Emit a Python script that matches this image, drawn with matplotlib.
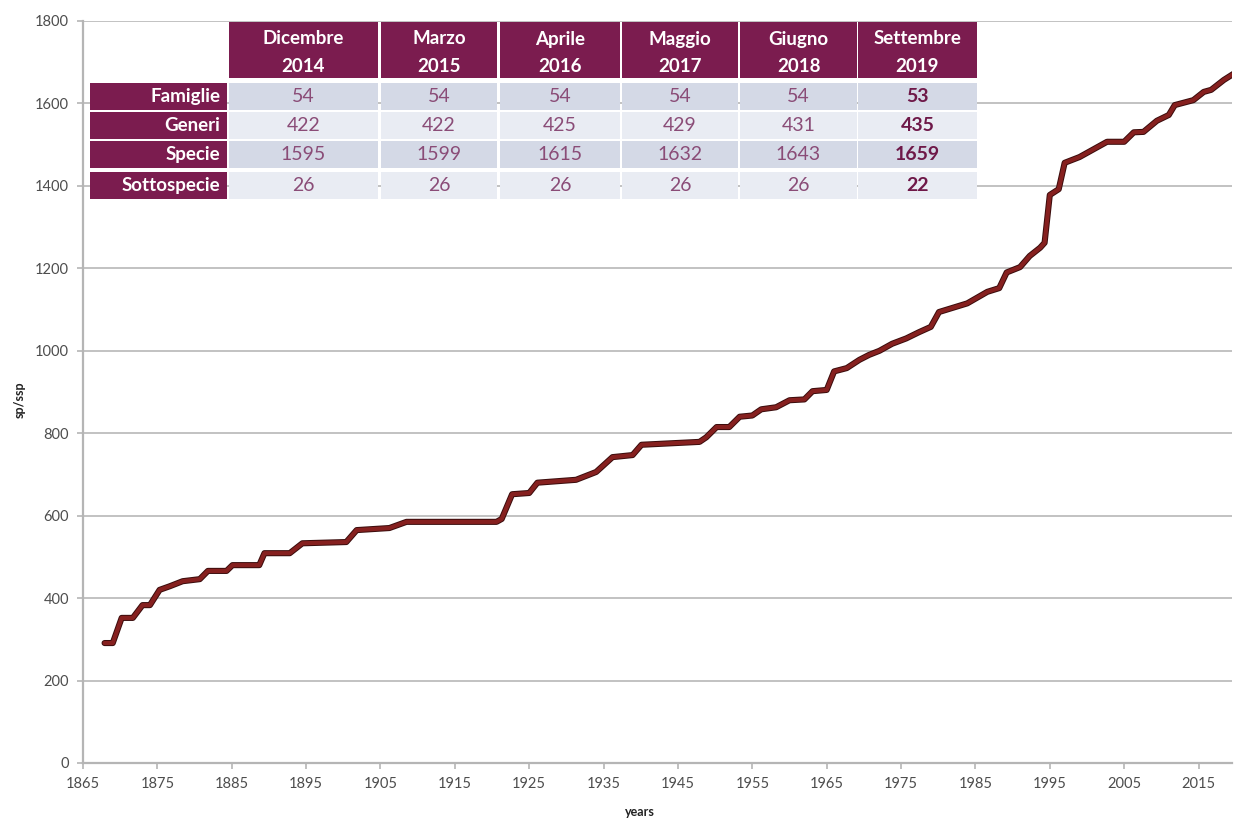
import matplotlib
matplotlib.use("Agg")
import matplotlib.pyplot as plt
from matplotlib.patches import Rectangle
import matplotlib.patheffects as pe

# ---------------- data ----------------
years = [1867.9, 1869.0, 1870.2, 1871.7, 1873.0, 1874.0, 1875.3, 1876.7, 1878.4,
         1880.7, 1881.8, 1884.3, 1885.1, 1888.7, 1889.4, 1892.8, 1894.5, 1900.4,
         1901.8, 1906.2, 1908.5, 1920.6, 1921.3, 1922.7, 1925.0, 1926.1, 1931.3,
         1934.0, 1936.2, 1938.9, 1940.1, 1947.9, 1948.8, 1950.2, 1951.9, 1953.3,
         1955.0, 1956.2, 1958.2, 1960.0, 1962.0, 1963.1, 1965.0, 1966.0, 1967.7,
         1969.4, 1970.7, 1972.1, 1973.8, 1975.7, 1977.4, 1979.0, 1980.1, 1983.9,
         1986.6, 1988.2, 1989.2, 1991.0, 1992.3, 1993.7, 1994.3, 1995.0, 1996.2,
         1997.0, 1999.0, 2000.0, 2002.7, 2005.0, 2006.3, 2007.6, 2009.4, 2011.0,
         2011.8, 2014.3, 2015.7, 2016.7, 2018.4, 2019.8]
species = [291, 291, 352, 352, 383, 383, 420, 429, 441,
           446, 466, 466, 480, 480, 509, 509, 533, 536,
           565, 570, 585, 585, 592, 652, 655, 680, 687,
           706, 742, 747, 772, 779, 790, 815, 815, 840,
           843, 858, 863, 880, 882, 902, 905, 950, 958,
           978, 990, 1000, 1017, 1030, 1045, 1058, 1094, 1115,
           1143, 1152, 1190, 1203, 1230, 1250, 1262, 1378, 1392,
           1456, 1470, 1480, 1507, 1507, 1530, 1531, 1558, 1572,
           1596, 1608, 1628, 1633, 1657, 1673]

x_ticks = list(range(1865, 2020, 10))
y_ticks = list(range(0, 1801, 200))

col_headers = ["Dicembre\n2014", "Marzo\n2015", "Aprile\n2016",
               "Maggio\n2017", "Giugno\n2018", "Settembre\n2019"]
row_labels = ["Famiglie", "Generi", "Specie", "Sottospecie"]
famiglie = [54, 54, 54, 54, 54, 53]
generi = [422, 422, 425, 429, 431, 435]
specie = [1595, 1599, 1615, 1632, 1643, 1659]
sottospecie = [26, 26, 26, 26, 26, 22]

# ---------------- style ----------------
W, H = 1238, 818
fig = plt.figure(figsize=(W / 100, H / 100), dpi=100)
fig.patch.set_facecolor("white")
plt.rcParams["font.family"] = ["Lato", "DejaVu Sans"]

L, R, B, T = 83, 1232, 763, 21
ax = fig.add_axes([L / W, 1 - B / H, (R - L) / W, (B - T) / H])
ax.set_xlim(1865, 2019.5)
ax.set_ylim(0, 1800)
ax.set_xticks(x_ticks)
ax.set_yticks(y_ticks)
ax.grid(axis="y", color="#bdbdbd", linewidth=1.3)
ax.set_axisbelow(True)
for s in ["top", "right"]:
    ax.spines[s].set_visible(False)
for s in ["left", "bottom"]:
    ax.spines[s].set_color("#b5b5b5")
    ax.spines[s].set_linewidth(1.6)
ax.tick_params(axis="both", colors="#b5b5b5", labelcolor="#4d4d4d",
               labelsize=10.5, length=4, width=1.2)
ax.tick_params(axis="x", pad=6)
ax.tick_params(axis="y", pad=6)

ax.plot(years, species, color="#86201f", linewidth=3.0, solid_joinstyle="round",
        solid_capstyle="round",
        path_effects=[pe.Stroke(linewidth=4.4, foreground="#3a0c0c"), pe.Normal()])

fig.text(20 / W, 1 - 400 / H, "sp/ssp", rotation=90, ha="center", va="center",
         fontsize=9, fontweight="bold", color="#222222")
fig.text(640 / W, 1 - 812 / H, "years", ha="center", va="center",
         fontsize=9, fontweight="bold", color="#222222")

# ---------------- table overlay ----------------
ov = fig.add_axes([0, 0, 1, 1], facecolor="none")
ov.set_xlim(0, W)
ov.set_ylim(H, 0)
ov.axis("off")

head_col = "#7b1c4f"
band_dark = "#d4d9e6"
band_light = "#e9ecf3"
val_col = "#8a4c77"
val_bold = "#6e1848"

col_x = [229, 381, 500, 622, 740, 858]
col_w = [149, 116, 120, 116, 117, 119]
head_y, head_h = 22, 56
row_y = [83, 112, 141, 172]
row_h = 27
lab_x, lab_w = 90, 137

for cx, cw, txt in zip(col_x, col_w, col_headers):
    ov.add_patch(Rectangle((cx, head_y), cw, head_h, facecolor=head_col, edgecolor="none"))
    l1, l2 = txt.split("\n")
    ov.text(cx + cw / 2, head_y + 17, l1, ha="center", va="center", color="white",
            fontsize=13.5, fontweight="bold")
    ov.text(cx + cw / 2, head_y + 45, l2, ha="center", va="center", color="white",
            fontsize=13.5, fontweight="bold")

rows = [famiglie, generi, specie, sottospecie]
for i, (lab, vals) in enumerate(zip(row_labels, rows)):
    ry = row_y[i]
    ov.add_patch(Rectangle((lab_x, ry), lab_w, row_h, facecolor=head_col, edgecolor="none"))
    ov.text(lab_x + lab_w - 7, ry + row_h / 2, lab, ha="right", va="center",
            color="white", fontsize=13.5, fontweight="bold")
    bg = band_dark if i % 2 == 0 else band_light
    for j, (cx, cw, v) in enumerate(zip(col_x, col_w, vals)):
        ov.add_patch(Rectangle((cx, ry), cw, row_h, facecolor=bg, edgecolor="none"))
        last = j == len(vals) - 1
        ov.text(cx + cw / 2, ry + row_h / 2, str(v), ha="center", va="center",
                color=val_bold if last else val_col, fontsize=14,
                fontweight="bold" if last else "normal")

fig.savefig("out.png", dpi=100, facecolor="white")
